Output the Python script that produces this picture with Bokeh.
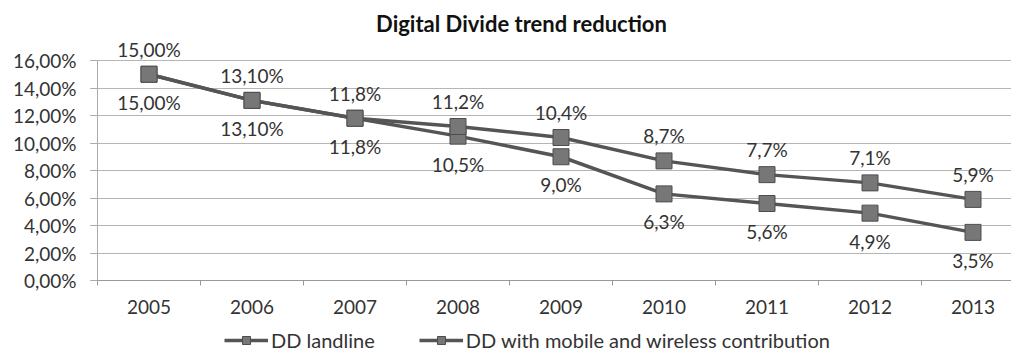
from bokeh.plotting import figure
from bokeh.models import (ColumnDataSource, LabelSet, Label, Legend, LegendItem,
                          FixedTicker, Range1d)
from bokeh.core.properties import value
from bokeh.embed import file_html
from bokeh.resources import INLINE

# ---- data ----
years = ["2005", "2006", "2007", "2008", "2009", "2010", "2011", "2012", "2013"]
dd_landline = [15.0, 13.1, 11.8, 11.2, 10.4, 8.7, 7.7, 7.1, 5.9]
dd_mobile = [15.0, 13.1, 11.8, 10.5, 9.0, 6.3, 5.6, 4.9, 3.5]
landline_labels = ["15,00%", "13,10%", "11,8%", "11,2%", "10,4%", "8,7%", "7,7%", "7,1%", "5,9%"]
mobile_labels = ["15,00%", "13,10%", "11,8%", "10,5%", "9,0%", "6,3%", "5,6%", "4,9%", "3,5%"]
y_ticks = [0, 2, 4, 6, 8, 10, 12, 14, 16]
y_tick_labels = ["0,00%", "2,00%", "4,00%", "6,00%", "8,00%", "10,00%", "12,00%", "14,00%", "16,00%"]
series_names = ["DD landline", "DD with mobile and wireless contribution"]
title_text = "Digital Divide trend reduction"

FONT = "Lato"
FS = "19px"
TXT = "#333333"
LINE = "#555555"
MFILL = "#777777"
MLINE = "#4d4d4d"

W, H = 1011, 353
LEFT, TOP, BOTTOM = 97, 60, 280     # plot-area edges in pixels
CAT_W = 103.0                        # pixels per category
Y_PX = (BOTTOM - TOP) / 16.0         # pixels per percent

xs = list(range(len(years)))
x_start = -0.5 - LEFT / CAT_W
x_end = -0.5 + (W - LEFT) / CAT_W
y_start = -(H - BOTTOM) / Y_PX
y_end = 16 + TOP / Y_PX

p = figure(width=W, height=H, output_backend="svg", toolbar_location=None,
           x_range=Range1d(x_start, x_end), y_range=Range1d(y_start, y_end),
           min_border_left=0, min_border_right=0, min_border_top=0,
           min_border_bottom=0)
p.outline_line_color = None
p.background_fill_color = "white"
p.border_fill_color = "white"

# axes (placed at the plot-area edges)
p.xaxis.fixed_location = 0
p.xaxis.bounds = (-0.5, x_end)
p.xaxis.ticker = FixedTicker(ticks=xs, minor_ticks=[i - 0.5 for i in range(len(years))])
p.xaxis.major_label_overrides = {i: y for i, y in enumerate(years)}
p.xaxis.major_tick_out = 0
p.xaxis.major_tick_in = 0
p.xaxis.minor_tick_out = 5
p.xaxis.minor_tick_in = 0
p.xaxis.minor_tick_line_color = "#999999"
p.xaxis.axis_line_color = "#999999"
p.xaxis.major_label_standoff = 14

p.yaxis.fixed_location = -0.5
p.yaxis.bounds = (0, 16)
p.yaxis.ticker = FixedTicker(ticks=y_ticks)
p.yaxis.major_label_overrides = {t: l for t, l in zip(y_ticks, y_tick_labels)}
p.yaxis.major_tick_out = 7
p.yaxis.major_tick_in = 0
p.yaxis.minor_tick_line_color = None
p.yaxis.major_tick_line_color = "#aaaaaa"
p.yaxis.axis_line_color = "#aaaaaa"
p.yaxis.major_label_standoff = 14
for ax in (p.xaxis, p.yaxis):
    ax.major_label_text_font = FONT
    ax.major_label_text_font_size = FS
    ax.major_label_text_color = TXT

p.xgrid.grid_line_color = None
p.ygrid.grid_line_color = "#b5b5b5"
p.ygrid.grid_line_width = 1
p.ygrid.cross_bounds = (-0.5 - 7 / CAT_W, x_end)

# title
p.add_layout(Label(x=-0.5 + (521 - LEFT) / CAT_W, y=16 + (TOP - 23) / Y_PX,
                   text=title_text, text_align="center", text_baseline="middle",
                   text_font=FONT, text_font_size="22px", text_font_style="bold",
                   text_color="#111111"))

# series
src1 = ColumnDataSource(dict(x=xs, y=dd_landline, t=landline_labels))
src2 = ColumnDataSource(dict(x=xs, y=dd_mobile, t=mobile_labels))

l2 = p.line("x", "y", source=src2, line_color=LINE, line_width=3.5)
s2 = p.scatter("x", "y", source=src2, marker="square", size=16,
               fill_color=MFILL, line_color=MLINE, line_width=1)
l1 = p.line("x", "y", source=src1, line_color=LINE, line_width=3.5)
s1 = p.scatter("x", "y", source=src1, marker="square", size=16,
               fill_color=MFILL, line_color=MLINE, line_width=1)

lab1 = LabelSet(x="x", y="y", text="t", source=src1, y_offset=25,
                text_align="center", text_baseline="middle",
                text_font=value(FONT), text_font_size=value(FS), text_color=TXT)
lab2 = LabelSet(x="x", y="y", text="t", source=src2, y_offset=-28,
                text_align="center", text_baseline="middle",
                text_font=value(FONT), text_font_size=value(FS), text_color=TXT)
p.add_layout(lab1)
p.add_layout(lab2)

legend = Legend(items=[LegendItem(label=series_names[0], renderers=[l1, s1]),
                       LegendItem(label=series_names[1], renderers=[l2, s2])],
                location=(224, 1), orientation="horizontal",
                glyph_width=44, glyph_height=20, label_standoff=3, spacing=44,
                padding=0, margin=0, border_line_color=None,
                background_fill_alpha=0,
                label_text_font=FONT, label_text_font_size="20px",
                label_text_color=TXT)
p.add_layout(legend, "center")

open("out.html", "w").write(file_html(p, INLINE))
